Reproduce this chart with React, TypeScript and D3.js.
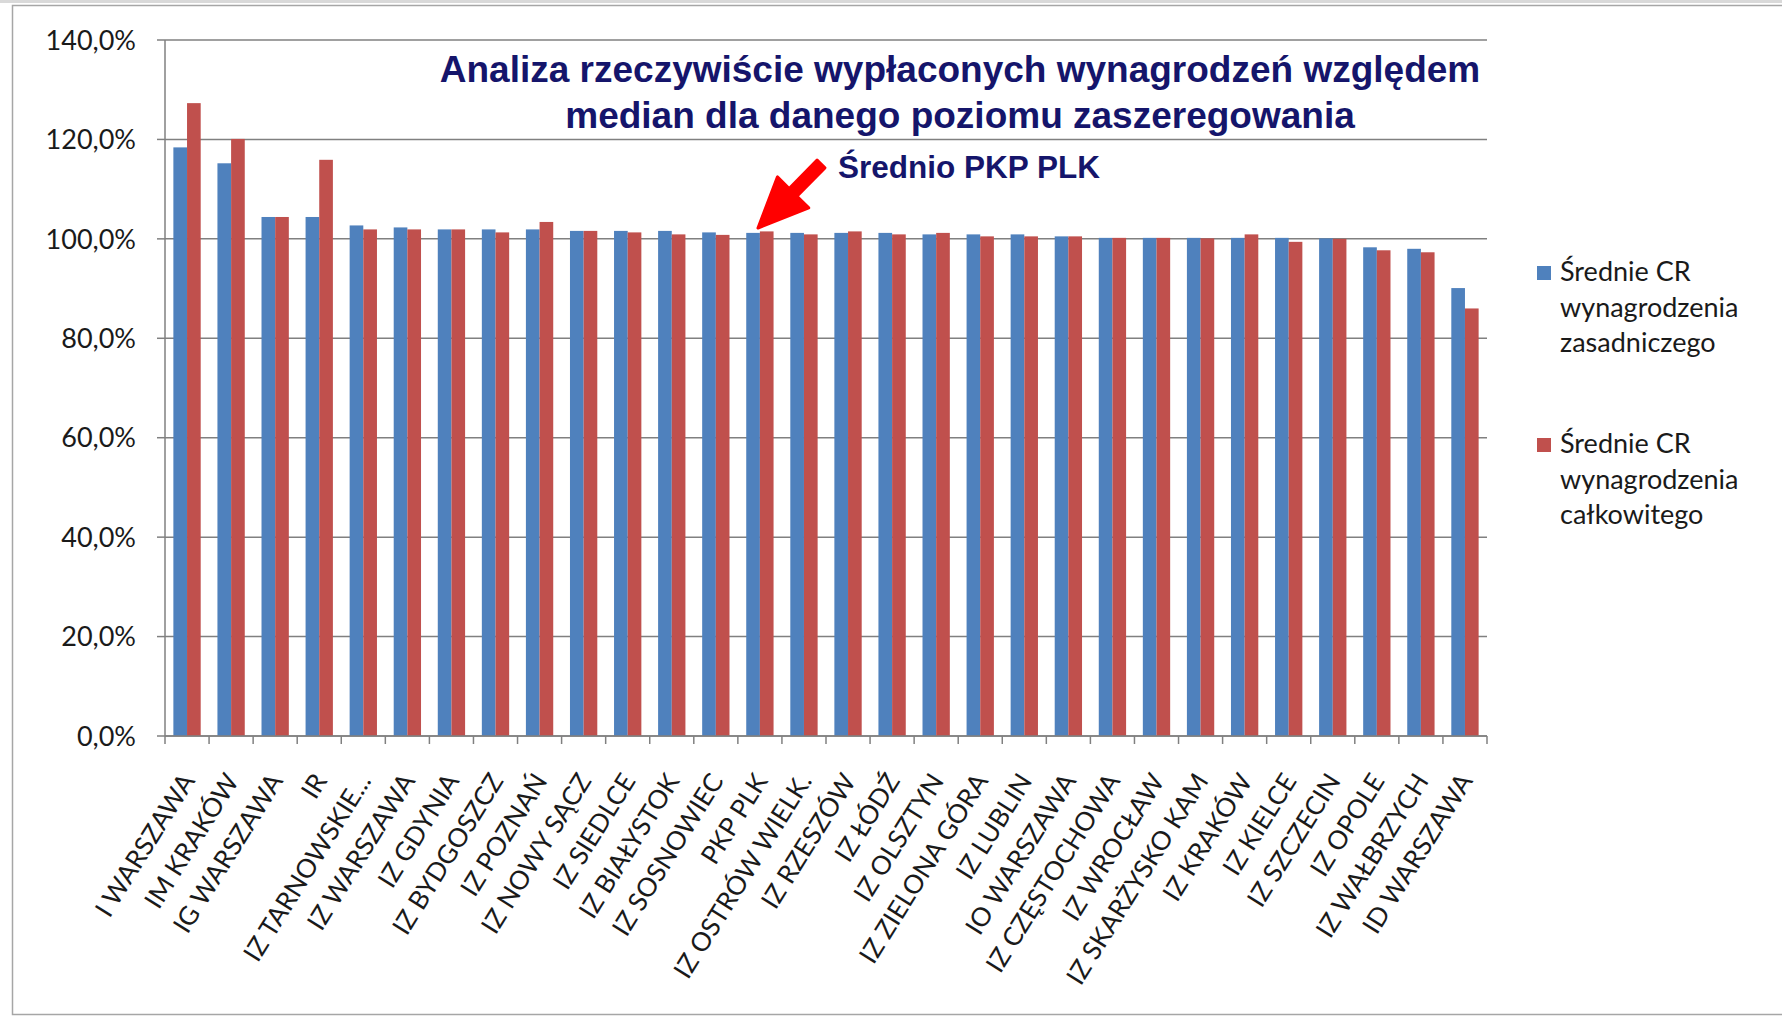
import React from "react";
import * as d3 from "d3";

const categories = [
  "I WARSZAWA", "IM KRAKÓW", "IG WARSZAWA", "IR", "IZ TARNOWSKIE...", "IZ WARSZAWA",
  "IZ GDYNIA", "IZ BYDGOSZCZ", "IZ POZNAŃ", "IZ NOWY SĄCZ", "IZ SIEDLCE", "IZ BIAŁYSTOK",
  "IZ SOSNOWIEC", "PKP PLK", "IZ OSTRÓW WIELK.", "IZ RZESZÓW", "IZ ŁÓDŹ", "IZ OLSZTYN",
  "IZ ZIELONA GÓRA", "IZ LUBLIN", "IO WARSZAWA", "IZ CZĘSTOCHOWA", "IZ WROCŁAW",
  "IZ SKARŻYSKO KAM", "IZ KRAKÓW", "IZ KIELCE", "IZ SZCZECIN", "IZ OPOLE", "IZ WAŁBRZYCH",
  "ID WARSZAWA",
];

const baseCR = [
  118.4, 115.2, 104.4, 104.4, 102.7, 102.3, 101.9, 101.9, 101.9, 101.6, 101.6, 101.6,
  101.3, 101.2, 101.2, 101.2, 101.2, 100.9, 100.9, 100.9, 100.5, 100.2, 100.2, 100.2,
  100.2, 100.2, 100.1, 98.3, 98.0, 90.1,
];

const totalCR = [
  127.3, 120.1, 104.4, 115.9, 101.9, 101.9, 101.9, 101.3, 103.4, 101.6, 101.3, 100.9,
  100.8, 101.5, 100.9, 101.5, 100.9, 101.2, 100.5, 100.5, 100.5, 100.2, 100.2, 100.1,
  100.9, 99.4, 100.0, 97.7, 97.3, 86.0,
];

const yTicks = [0, 20, 40, 60, 80, 100, 120, 140];

const seriesNames = ["Średnie CR wynagrodzenia zasadniczego", "Średnie CR wynagrodzenia całkowitego"];
const legendLines = [
  ["Średnie CR", "wynagrodzenia", "zasadniczego"],
  ["Średnie CR", "wynagrodzenia", "całkowitego"],
];
const seriesColors = ["#4F81BD", "#C0504D"];

const titleLines = [
  "Analiza rzeczywiście wypłaconych wynagrodzeń względem",
  "median dla danego poziomu zaszeregowania",
];
const annotation = "Średnio PKP PLK";

const W = 1782;
const H = 1018;
const plot = { left: 165, right: 1487, top: 40, bottom: 736 };
const labelFont = "Lato, 'Open Sans', sans-serif";
const navy = "#15156B";

const plLocale = d3.formatLocale({ decimal: ",", thousands: " ", grouping: [3], currency: ["", " zł"] });
const fmt = plLocale.format(".1f");

export default function App() {
  const x = d3
    .scaleBand<string>()
    .domain(categories)
    .range([plot.left, plot.right])
    .paddingInner(0.38)
    .paddingOuter(0.19);
  const x1 = d3.scaleBand<number>().domain([0, 1]).range([0, x.bandwidth()]);
  const y = d3.scaleLinear().domain([0, 140]).range([plot.bottom, plot.top]);
  const step = x.step();
  const series = [baseCR, totalCR];

  // arrow geometry (annotation)
  const tail: [number, number] = [821, 164];
  const tip: [number, number] = [758, 228];
  const dx = tip[0] - tail[0];
  const dy = tip[1] - tail[1];
  const len = Math.hypot(dx, dy);
  const u = [dx / len, dy / len];
  const n = [-u[1], u[0]];
  const headLen = 50;
  const headW = 22;
  const shaftW = 5.5;
  const hx = tip[0] - u[0] * headLen;
  const hy = tip[1] - u[1] * headLen;
  const pts = [
    [tail[0] + n[0] * shaftW, tail[1] + n[1] * shaftW],
    [hx + n[0] * shaftW, hy + n[1] * shaftW],
    [hx + n[0] * headW, hy + n[1] * headW],
    tip,
    [hx - n[0] * headW, hy - n[1] * headW],
    [hx - n[0] * shaftW, hy - n[1] * shaftW],
    [tail[0] - n[0] * shaftW, tail[1] - n[1] * shaftW],
  ];

  return (
    <svg
      width={W}
      height={H}
      style={{ position: "absolute", left: 0, top: 0, background: "#fff" }}
      xmlns="http://www.w3.org/2000/svg"
    >
      <rect x={0} y={0} width={W} height={H} fill="#fff" />
      <rect x={0} y={0} width={W} height={3} fill="#d9d9d9" />
      <rect x={12.5} y={5.5} width={W} height={1009} fill="none" stroke="#a6a6a6" strokeWidth={1.5} />

      {/* gridlines */}
      {yTicks.map((t) => (
        <line key={"g" + t} x1={plot.left} x2={plot.right} y1={y(t)} y2={y(t)} stroke="#808080" strokeWidth={1.5} />
      ))}

      {/* bars */}
      {categories.map((c, i) => (
        <g key={c}>
          {series.map((s, k) => (
            <rect
              key={k}
              x={(x(c) as number) + (x1(k) as number)}
              y={y(s[i])}
              width={x1.bandwidth()}
              height={y(0) - y(s[i])}
              fill={seriesColors[k]}
            />
          ))}
        </g>
      ))}

      {/* y axis */}
      <line x1={plot.left} x2={plot.left} y1={plot.top} y2={plot.bottom} stroke="#808080" strokeWidth={1.5} />
      {yTicks.map((t) => (
        <g key={"yt" + t}>
          <line x1={plot.left - 8} x2={plot.left} y1={y(t)} y2={y(t)} stroke="#808080" strokeWidth={1.5} />
          <text
            x={plot.left - 29}
            y={y(t)}
            dy="0.36em"
            textAnchor="end"
            fontFamily={labelFont}
            fontSize={27}
            fill="#1a1a1a"
          >
            {fmt(t) + "%"}
          </text>
        </g>
      ))}

      {/* x axis */}
      <line x1={plot.left} x2={plot.right} y1={plot.bottom} y2={plot.bottom} stroke="#808080" strokeWidth={1.5} />
      {d3.range(categories.length + 1).map((i) => (
        <line
          key={"xt" + i}
          x1={plot.left + i * step}
          x2={plot.left + i * step}
          y1={plot.bottom}
          y2={plot.bottom + 8}
          stroke="#808080"
          strokeWidth={1.5}
        />
      ))}
      {categories.map((c) => {
        const cx = (x(c) as number) + x.bandwidth() / 2;
        return (
          <text
            key={"xl" + c}
            transform={`translate(${cx + 1},${776}) rotate(-58)`}
            textAnchor="end"
            dy="0.35em"
            fontFamily={labelFont}
            fontSize={26}
            fill="#1a1a1a"
          >
            {c}
          </text>
        );
      })}

      {/* title */}
      {titleLines.map((l, i) => (
        <text
          key={"t" + i}
          x={960}
          y={82 + i * 46}
          textAnchor="middle"
          fontFamily="'Liberation Sans', Arial, sans-serif"
          fontWeight="bold"
          fontSize={37}
          fill={navy}
        >
          {l}
        </text>
      ))}

      {/* annotation */}
      <text
        x={838}
        y={178}
        fontFamily="'Liberation Sans', Arial, sans-serif"
        fontWeight="bold"
        fontSize={31.5}
        fill={navy}
      >
        {annotation}
      </text>
      <polygon
        points={pts.map((p) => p.join(",")).join(" ")}
        fill="#FF0000"
        stroke="#FF0000"
        strokeWidth={3}
        strokeLinejoin="round"
      />

      {/* legend */}
      {legendLines.map((lines, k) => (
        <g key={"lg" + k} aria-label={seriesNames[k]}>
          <rect x={1537} y={266 + k * 172} width={14} height={14} fill={seriesColors[k]} />
          {lines.map((ln, j) => (
            <text
              key={j}
              x={1560}
              y={281 + k * 172 + j * 35.5}
              fontFamily={labelFont}
              fontSize={27}
              fill="#1a1a1a"
            >
              {ln}
            </text>
          ))}
        </g>
      ))}
    </svg>
  );
}
